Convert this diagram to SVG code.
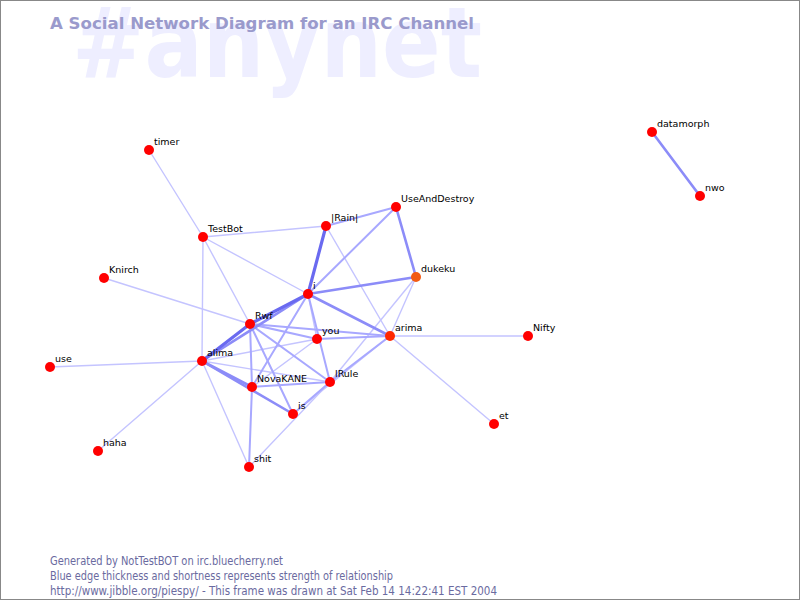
<svg xmlns="http://www.w3.org/2000/svg" width="800" height="600" viewBox="0 0 800 600">
<style>
.bg{fill:#ffffff;stroke:#888888;stroke-width:1}
.wm{font-family:"DejaVu Sans",sans-serif;font-weight:bold;font-size:98px;fill:#eeeeff}
.title{font-family:"DejaVu Sans",sans-serif;font-weight:bold;font-size:16.5px;fill:#9a9acc}
.foot{font-family:"DejaVu Sans",sans-serif;font-size:11.5px;fill:#6a6aa0}
.e1{stroke:#c4c4ff;stroke-width:1.4;fill:none}
.e2{stroke:#a8a8ff;stroke-width:2;fill:none}
.e3{stroke:#8c8cf8;stroke-width:2.6;fill:none}
.e4{stroke:#6a6af0;stroke-width:3.2;fill:none}
.n{fill:#ff0000}
.lbl{font-family:"DejaVu Sans",sans-serif;font-size:9.5px;fill:#000000}
</style>
<rect class="bg" x="0.5" y="0.5" width="799" height="599"/>
<text class="wm" x="72" y="77" textLength="410" lengthAdjust="spacingAndGlyphs">#anynet</text>
<text class="title" x="50" y="29" textLength="424" lengthAdjust="spacingAndGlyphs">A Social Network Diagram for an IRC Channel</text>
<g id="connectors" stroke-linecap="round">
<line class="e1" x1="149" y1="150" x2="203" y2="237"/>
<line class="e1" x1="203" y1="237" x2="326" y2="226"/>
<line class="e1" x1="203" y1="237" x2="308" y2="294"/>
<line class="e1" x1="203" y1="237" x2="202" y2="361"/>
<line class="e1" x1="203" y1="237" x2="250" y2="324"/>
<line class="e1" x1="104" y1="278" x2="250" y2="324"/>
<line class="e1" x1="50" y1="367" x2="202" y2="361"/>
<line class="e1" x1="98" y1="451" x2="202" y2="361"/>
<line class="e1" x1="202" y1="361" x2="249" y2="467"/>
<line class="e1" x1="202" y1="361" x2="317" y2="339"/>
<line class="e1" x1="202" y1="361" x2="330" y2="382"/>
<line class="e1" x1="317" y1="339" x2="252" y2="387"/>
<line class="e1" x1="308" y1="294" x2="317" y2="339"/>
<line class="e1" x1="326" y1="226" x2="390" y2="336"/>
<line class="e1" x1="416" y1="277" x2="390" y2="336"/>
<line class="e1" x1="416" y1="277" x2="330" y2="382"/>
<line class="e1" x1="390" y1="336" x2="528" y2="336"/>
<line class="e1" x1="390" y1="336" x2="494" y2="424"/>
<line class="e1" x1="390" y1="336" x2="293" y2="414"/>
<line class="e1" x1="249" y1="467" x2="330" y2="382"/>
<line class="e2" x1="252" y1="387" x2="249" y2="467"/>
<line class="e2" x1="326" y1="226" x2="396" y2="207"/>
<line class="e2" x1="308" y1="294" x2="396" y2="207"/>
<line class="e2" x1="250" y1="324" x2="330" y2="382"/>
<line class="e2" x1="308" y1="294" x2="330" y2="382"/>
<line class="e2" x1="250" y1="324" x2="317" y2="339"/>
<line class="e2" x1="250" y1="324" x2="390" y2="336"/>
<line class="e2" x1="317" y1="339" x2="390" y2="336"/>
<line class="e2" x1="250" y1="324" x2="293" y2="414"/>
<line class="e2" x1="250" y1="324" x2="252" y2="387"/>
<line class="e2" x1="308" y1="294" x2="252" y2="387"/>
<line class="e2" x1="330" y1="382" x2="390" y2="336"/>
<line class="e2" x1="293" y1="414" x2="330" y2="382"/>
<line class="e2" x1="252" y1="387" x2="330" y2="382"/>
<line class="e3" x1="396" y1="207" x2="416" y2="277"/>
<line class="e3" x1="202" y1="361" x2="252" y2="387"/>
<line class="e3" x1="202" y1="361" x2="293" y2="414"/>
<line class="e3" x1="652" y1="132" x2="700" y2="196"/>
<line class="e3" x1="202" y1="361" x2="308" y2="294"/>
<line class="e4" x1="202" y1="361" x2="250" y2="324"/>
<line class="e4" x1="250" y1="324" x2="308" y2="294"/>
<line class="e4" x1="308" y1="294" x2="326" y2="226"/>
<line class="e3" x1="308" y1="294" x2="416" y2="277"/>
<line class="e3" x1="308" y1="294" x2="390" y2="336"/>
</g>
<g id="node-timer"><circle class="n" cx="149" cy="150" r="5"/><text class="lbl" x="154" y="145">timer</text></g>
<g id="node-TestBot"><circle class="n" cx="203" cy="237" r="5"/><text class="lbl" x="208" y="232">TestBot</text></g>
<g id="node-Knirch"><circle class="n" cx="104" cy="278" r="5"/><text class="lbl" x="109" y="273">Knirch</text></g>
<g id="node-use"><circle class="n" cx="50" cy="367" r="5"/><text class="lbl" x="55" y="362">use</text></g>
<g id="node-haha"><circle class="n" cx="98" cy="451" r="5"/><text class="lbl" x="103" y="446">haha</text></g>
<g id="node-alima"><circle class="n" cx="202" cy="361" r="5"/><text class="lbl" x="207" y="356">alima</text></g>
<g id="node-Rwf"><circle class="n" cx="250" cy="324" r="5"/><text class="lbl" x="255" y="319">Rwf</text></g>
<g id="node-i"><circle class="n" cx="308" cy="294" r="5"/><text class="lbl" x="313" y="289">i</text></g>
<g id="node-Rain"><circle class="n" cx="326" cy="226" r="5"/><text class="lbl" x="331" y="221">|Rain|</text></g>
<g id="node-UseAndDestroy"><circle class="n" cx="396" cy="207" r="5"/><text class="lbl" x="401" y="202">UseAndDestroy</text></g>
<g id="node-dukeku"><circle cx="416" cy="277" r="5" fill="#f25a14"/><text class="lbl" x="421" y="272">dukeku</text></g>
<g id="node-you"><circle class="n" cx="317" cy="339" r="5"/><text class="lbl" x="322" y="334">you</text></g>
<g id="node-arima"><circle cx="390" cy="336" r="5" fill="#ff2800"/><text class="lbl" x="395" y="331">arima</text></g>
<g id="node-Nifty"><circle class="n" cx="528" cy="336" r="5"/><text class="lbl" x="533" y="331">Nifty</text></g>
<g id="node-et"><circle class="n" cx="494" cy="424" r="5"/><text class="lbl" x="499" y="419">et</text></g>
<g id="node-NovaKANE"><circle class="n" cx="252" cy="387" r="5"/><text class="lbl" x="257" y="382">NovaKANE</text></g>
<g id="node-lRule"><circle class="n" cx="330" cy="382" r="5"/><text class="lbl" x="335" y="377">lRule</text></g>
<g id="node-is"><circle class="n" cx="293" cy="414" r="5"/><text class="lbl" x="298" y="409">is</text></g>
<g id="node-shit"><circle class="n" cx="249" cy="467" r="5"/><text class="lbl" x="254" y="462">shit</text></g>
<g id="node-datamorph"><circle class="n" cx="652" cy="132" r="5"/><text class="lbl" x="657" y="127">datamorph</text></g>
<g id="node-nwo"><circle class="n" cx="700" cy="196" r="5"/><text class="lbl" x="705" y="191">nwo</text></g>
<text class="foot" x="50" y="565" textLength="233" lengthAdjust="spacingAndGlyphs">Generated by NotTestBOT on irc.bluecherry.net</text>
<text class="foot" x="50" y="580" textLength="343" lengthAdjust="spacingAndGlyphs">Blue edge thickness and shortness represents strength of relationship</text>
<text class="foot" x="50" y="595" textLength="447" lengthAdjust="spacingAndGlyphs">http://www.jibble.org/piespy/ - This frame was drawn at Sat Feb 14 14:22:41 EST 2004</text>
</svg>
